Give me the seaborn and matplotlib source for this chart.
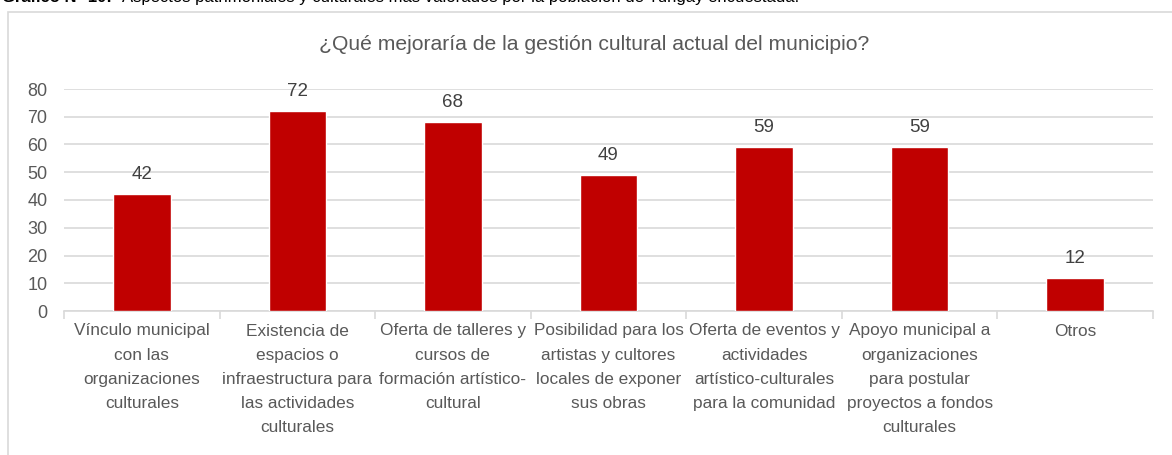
import seaborn as sns
import matplotlib.pyplot as plt
import pandas as pd
from matplotlib.patches import Rectangle

# datos del gráfico
categorias = ["Vínculo municipal\ncon las\norganizaciones\nculturales",
              "Existencia de\nespacios o\ninfraestructura para\nlas actividades\nculturales",
              "Oferta de talleres y\ncursos de\nformación artístico-\ncultural",
              "Posibilidad para los\nartistas y cultores\nlocales de exponer\nsus obras",
              "Oferta de eventos y\nactividades\nartístico-culturales\npara la comunidad",
              "Apoyo municipal a\norganizaciones\npara postular\nproyectos a fondos\nculturales",
              "Otros"]
valores = [42, 72, 68, 49, 59, 59, 12]
titulo = "¿Qué mejoraría de la gestión cultural actual del municipio?"

df = pd.DataFrame({"categoria": categorias, "valor": valores})

sns.set_theme(style="white")
plt.rcParams['font.family'] = ['Liberation Sans', 'DejaVu Sans']
gris = "#595959"

fig = plt.figure(figsize=(11.72, 4.55), dpi=100)
ax = fig.add_axes([64/1172, 1-311/455, (1153-64)/1172, (311-89)/455])

sns.barplot(data=df, x="categoria", y="valor", color="#C00000", width=0.37,
            saturation=1, ax=ax, zorder=3)

ax.set_ylim(0, 80)
ax.set_xlim(-0.5, len(categorias)-0.5)
ax.set_yticks(range(0, 81, 10))
ax.yaxis.grid(True, color="#D9D9D9", linewidth=1.2, zorder=0)
ax.set_xlabel("")
ax.set_ylabel("")
for s in ["top", "right", "left"]:
    ax.spines[s].set_visible(False)
ax.spines["bottom"].set_color("#D9D9D9")
ax.spines["bottom"].set_linewidth(1.2)

# ticks entre categorías
ax.set_xticks(range(len(categorias)))
ax.set_xticklabels(categorias, fontsize=12.4, color=gris, linespacing=1.76)
ax.tick_params(axis="x", length=0, pad=9)
ax.set_xticks([i - 0.5 for i in range(len(categorias)+1)], minor=True)
ax.tick_params(axis="x", which="minor", length=6, color="#D9D9D9", width=1.2, bottom=True)
ax.tick_params(axis="y", labelsize=13, labelcolor=gris, length=0, pad=12)

for i, v in enumerate(valores):
    ax.text(i, v + 4, str(v), ha="center", va="bottom", fontsize=13.5, color="#404040")

fig.text(594/1172, 1-44/455, titulo, ha="center", va="center", fontsize=15.2, color=gris)

# marco del gráfico
fig.patches.append(Rectangle((8/1172, -0.1), 1.2, 1-12/455+0.1, transform=fig.transFigure,
                             fill=False, edgecolor="#D9D9D9", linewidth=1.2))

# leyenda superior recortada
fig.text(0.002, 1.006, "Gráfico N° 10:", ha="left", va="center", fontsize=12,
         fontweight="bold", color="black")
fig.text(122/1172, 1.006, "Aspectos patrimoniales y culturales más valorados por la población de Tungay encuestada.",
         ha="left", va="center", fontsize=12, color="black")

fig.savefig("out.png", dpi=100)
